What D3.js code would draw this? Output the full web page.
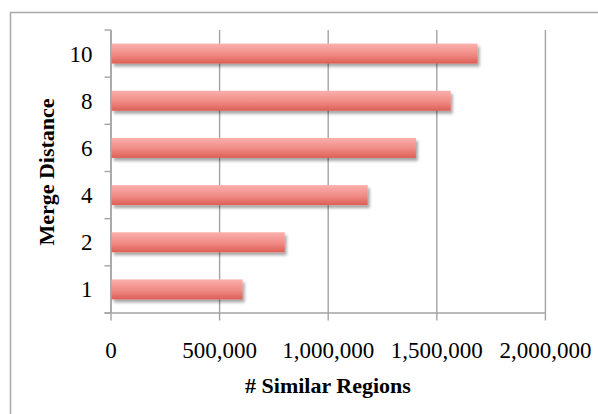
<!DOCTYPE html>
<html>
<head>
<meta charset="utf-8">
<script src="https://cdn.jsdelivr.net/npm/d3@7"></script>
<style>
  html, body { margin: 0; padding: 0; background: #fff; }
  svg { display: block; }
  text { font-family: "Liberation Serif", "Times New Roman", serif; fill: #000; }
</style>
</head>
<body>
<svg id="chart" width="598" height="414"></svg>
<script>
// Merge distance vs. number of similar regions
const categories = ["1", "2", "4", "6", "8", "10"];
const regionCounts = [606000, 800000, 1182000, 1404000, 1564000, 1688000];
const xTicks = [0, 500000, 1000000, 1500000, 2000000];
const xTitle = "# Similar Regions";
const yTitle = "Merge Distance";

const svg = d3.select("#chart");
const plot = { left: 111, right: 545.4, top: 30, bottom: 313 };

const x = d3.scaleLinear().domain([0, 2000000]).range([plot.left, plot.right]);
// categories listed bottom-to-top
const y = d3.scaleBand()
  .domain(categories.slice().reverse())
  .range([plot.top, plot.bottom])
  .paddingInner(0.576)
  .paddingOuter(0.288);

const defs = svg.append("defs");
const grad = defs.append("linearGradient")
  .attr("id", "barFill").attr("x1", 0).attr("y1", 0).attr("x2", 0).attr("y2", 1);
grad.append("stop").attr("offset", "0%").attr("stop-color", "#fbb0ad");
grad.append("stop").attr("offset", "55%").attr("stop-color", "#ef8a84");
grad.append("stop").attr("offset", "100%").attr("stop-color", "#dd5f56");

const shadow = defs.append("filter").attr("id", "barShadow")
  .attr("x", "-5%").attr("y", "-30%").attr("width", "115%").attr("height", "180%");
shadow.append("feGaussianBlur").attr("in", "SourceAlpha").attr("stdDeviation", 1.6).attr("result", "b");
shadow.append("feOffset").attr("in", "b").attr("dx", 2).attr("dy", 2.5).attr("result", "o");
shadow.append("feComponentTransfer").attr("in", "o").attr("result", "s")
  .append("feFuncA").attr("type", "linear").attr("slope", 0.35);
const merge = shadow.append("feMerge");
merge.append("feMergeNode").attr("in", "s");
merge.append("feMergeNode").attr("in", "SourceGraphic");

// outer chart frame
svg.append("path")
  .attr("d", "M10.5,414 V12.5 H598")
  .attr("fill", "none").attr("stroke", "#a9a9a9").attr("stroke-width", 1.5);

const gridColor = "#a3a3a3";

// vertical gridlines with ticks below the axis
svg.append("g").selectAll("line")
  .data(xTicks)
  .join("line")
  .attr("x1", d => x(d)).attr("x2", d => x(d))
  .attr("y1", plot.top).attr("y2", plot.bottom + 7.5)
  .attr("stroke", gridColor).attr("stroke-width", 1.4);

// category axis: vertical line and boundary ticks
const yAxis = svg.append("g");
yAxis.append("line")
  .attr("x1", plot.left).attr("x2", plot.left)
  .attr("y1", plot.top).attr("y2", plot.bottom)
  .attr("stroke", gridColor).attr("stroke-width", 1.4);
const step = y.step();
const boundaries = d3.range(categories.length + 1).map(i => plot.top + i * step);
yAxis.selectAll("line.tick")
  .data(boundaries)
  .join("line").attr("class", "tick")
  .attr("x1", plot.left - 6.5).attr("x2", plot.left)
  .attr("y1", d => d).attr("y2", d => d)
  .attr("stroke", gridColor).attr("stroke-width", 1.4);

// value axis baseline
svg.append("line")
  .attr("x1", plot.left - 6.5).attr("x2", plot.right)
  .attr("y1", plot.bottom).attr("y2", plot.bottom)
  .attr("stroke", gridColor).attr("stroke-width", 1.4);

// bars
svg.append("g").selectAll("rect")
  .data(categories.map((c, i) => ({ c, v: regionCounts[i] })))
  .join("rect")
  .attr("x", x(0) + 0.7)
  .attr("y", d => y(d.c))
  .attr("width", d => x(d.v) - x(0) - 0.7)
  .attr("height", y.bandwidth())
  .attr("fill", "url(#barFill)")
  .attr("filter", "url(#barShadow)");

// category labels
svg.append("g").selectAll("text")
  .data(categories)
  .join("text")
  .attr("x", 92.5)
  .attr("y", d => y(d) + y.bandwidth() / 2 + 8)
  .attr("text-anchor", "end")
  .style("font-size", "23px")
  .text(d => d);

// value tick labels
const fmt = d3.format(",");
svg.append("g").selectAll("text")
  .data(xTicks)
  .join("text")
  .attr("x", d => x(d))
  .attr("y", 358)
  .attr("text-anchor", "middle")
  .style("font-size", "23px")
  .text(d => fmt(d));

// axis titles
svg.append("text")
  .attr("x", 328)
  .attr("y", 393)
  .attr("text-anchor", "middle")
  .style("font-size", "22px").style("font-weight", "bold")
  .text(xTitle);

svg.append("text")
  .attr("transform", "translate(54, 172) rotate(-90)")
  .attr("text-anchor", "middle")
  .style("font-size", "22px").style("font-weight", "bold")
  .text(yTitle);
</script>
</body>
</html>
